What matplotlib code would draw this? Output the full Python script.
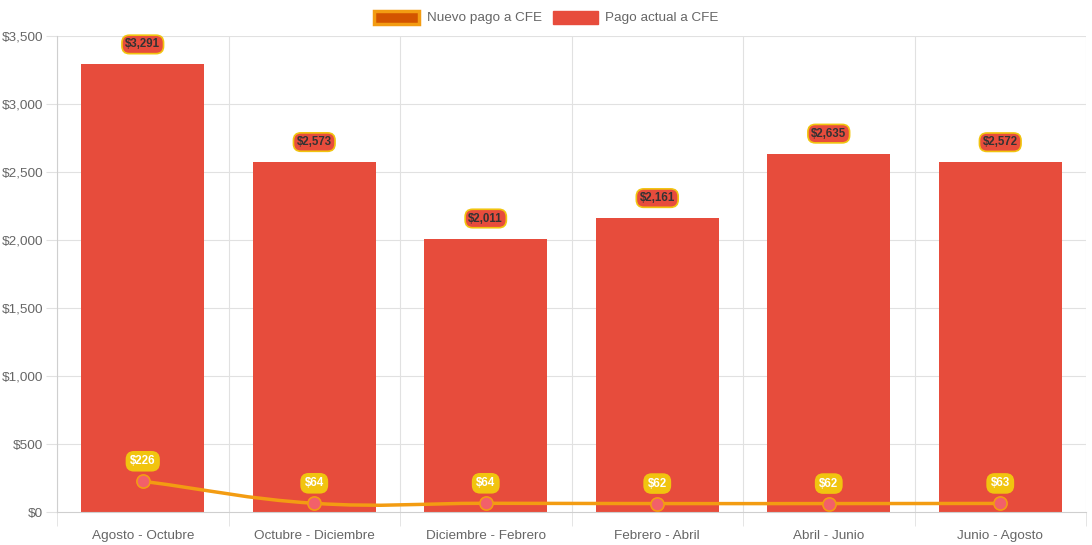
import matplotlib
matplotlib.use("Agg")
import matplotlib.pyplot as plt
import numpy as np
from matplotlib.path import Path
from matplotlib.patches import PathPatch, Rectangle
from matplotlib.ticker import FuncFormatter, MultipleLocator

categories = ["Agosto - Octubre", "Octubre - Diciembre", "Diciembre - Febrero",
              "Febrero - Abril", "Abril - Junio", "Junio - Agosto"]
pago_actual = [3291, 2573, 2011, 2161, 2635, 2572]
nuevo_pago = [226, 64, 64, 62, 62, 63]

plt.rcParams['font.family'] = ['Liberation Sans', 'DejaVu Sans']

W, H = 1092, 545
fig = plt.figure(figsize=(W/100, H/100), dpi=100)
ax = fig.add_axes([57/W, 1 - 512/H, (1086-57)/W, (512-36)/H])

n = len(categories)
x = np.arange(n)
ax.set_xlim(-0.5, n - 0.5)
ax.set_ylim(0, 3500)

grid_c = '#e1e1e1'
ax.bar(x, pago_actual, width=0.72, color='#e74c3c', zorder=2)

# grid
ax.yaxis.set_major_locator(MultipleLocator(500))
ax.yaxis.set_major_formatter(FuncFormatter(lambda v, p: f"${v:,.0f}"))
ax.set_xticks(x)
ax.set_xticklabels(categories)
ax.set_xticks(np.arange(n + 1) - 0.5, minor=True)
for yv in np.arange(500, 3501, 500):
    ax.axhline(yv, color=grid_c, lw=0.8, zorder=0)
for xv in np.arange(n + 1) - 0.5:
    ax.axvline(xv, color=grid_c, lw=0.8, zorder=0)
for s in ['top', 'right']:
    ax.spines[s].set_visible(False)
for s in ['left', 'bottom']:
    ax.spines[s].set_color('#cfcfcf')
    ax.spines[s].set_linewidth(0.8)
ax.tick_params(axis='y', length=8, color=grid_c, labelsize=9.7, labelcolor='#666666', pad=2)
ax.tick_params(axis='x', which='major', length=0, labelsize=9.7, labelcolor='#666666', pad=13)
ax.tick_params(axis='x', which='minor', length=10, color=grid_c)

# smooth line (Chart.js-like tension 0.4) computed in pixel space
fig.canvas.draw()
pts = ax.transData.transform(np.column_stack([x, nuevo_pago]))
t = 0.4
cps = []
for i in range(n):
    prev = pts[i-1] if i > 0 else pts[i]
    cur = pts[i]
    nxt = pts[i+1] if i < n-1 else pts[i]
    d01 = np.hypot(*(cur - prev))
    d12 = np.hypot(*(nxt - cur))
    tot = d01 + d12
    s01 = d01 / tot if tot else 0
    s12 = d12 / tot if tot else 0
    fa, fb = t * s01, t * s12
    cps.append((cur - fa * (nxt - prev), cur + fb * (nxt - prev)))
verts = [pts[0]]
codes = [Path.MOVETO]
for i in range(n - 1):
    verts += [cps[i][1], cps[i+1][0], pts[i+1]]
    codes += [Path.CURVE4] * 3
verts = ax.transData.inverted().transform(np.array(verts))
path = Path(verts, codes)
ax.add_patch(PathPatch(path, fill=False, edgecolor='#f39c12', lw=2.5, zorder=3))
ax.plot(x, nuevo_pago, 'o', ms=9.5, mfc='#f2606a', mec='#f39c12', mew=1.2, zorder=4, linestyle='none')

# labels
for xi, v in zip(x, pago_actual):
    ax.annotate(f"${v:,}", (xi, v), xytext=(0, 20), textcoords='offset pixels',
                ha='center', va='center', fontsize=8.3, fontweight='bold', color='#333333',
                bbox=dict(boxstyle='round,pad=0.28,rounding_size=0.65', fc='#e74c3c', ec='#f1c40f', lw=1.2),
                zorder=5)
for xi, v in zip(x, nuevo_pago):
    ax.annotate(f"${v:,}", (xi, v), xytext=(0, 20), textcoords='offset pixels',
                ha='center', va='center', fontsize=8.3, fontweight='bold', color='white',
                bbox=dict(boxstyle='round,pad=0.3,rounding_size=0.65', fc='#f1c40f', ec='#f1c40f', lw=1.2),
                zorder=5)

# legend
fig.patches.append(Rectangle((374/W, 1 - 24/H), 45/W, 13/H, transform=fig.transFigure,
                             fc='#d35400', ec='#f39c12', lw=2.5))
fig.text(427/W, 1 - 18.5/H, "Nuevo pago a CFE", fontsize=9.7, color='#666666', va='center', ha='left')
fig.patches.append(Rectangle((553/W, 1 - 24/H), 45/W, 13/H, transform=fig.transFigure,
                             fc='#e74c3c', ec='#e74c3c', lw=1))
fig.text(605/W, 1 - 18.5/H, "Pago actual a CFE", fontsize=9.7, color='#666666', va='center', ha='left')

fig.savefig("out.png", dpi=100)
